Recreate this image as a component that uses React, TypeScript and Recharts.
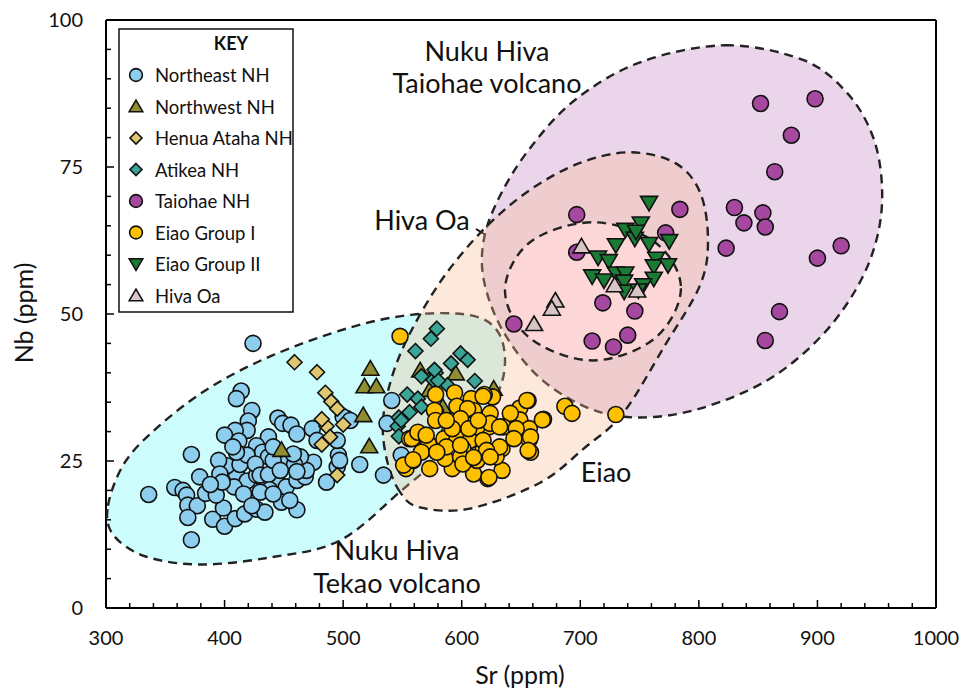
import React from 'react';
import { ScatterChart, Scatter, XAxis, YAxis, ReferenceLine, Customized } from 'recharts';

const FONT = 'Lato, "Open Sans", sans-serif';

// axis ticks
const xMajorTicks = [300, 400, 500, 600, 700, 800, 900, 1000];
const yMajorTicks = [0, 25, 50, 75, 100];
const xTicks: number[] = [];
for (let v = 300; v <= 1000; v += 20) xTicks.push(v);
const yTicks: number[] = [];
for (let v = 0; v <= 100; v += 5) yTicks.push(v);

// samples, [Sr, Nb] in ppm
const northeastNH = [
  [424, 45.0], [414, 36.9], [410, 35.6], [423, 33.6], [420, 31.8], [419, 30.2], [409, 30.2], [400, 29.4], [412, 28.4],
  [445, 32.3], [449, 31.4], [456, 31.1], [461, 29.6], [474, 30.5], [437, 29.1], [427, 27.6], [432, 26.5], [437, 25.7],
  [372, 26.1], [379, 22.3], [358, 20.5], [336, 19.3], [365, 20.0], [368, 19.2], [369, 17.5], [377, 17.4], [369, 15.4], [372, 11.6],
  [390, 15.1], [400, 13.9], [409, 15.2], [417, 16.0], [427, 16.8], [434, 16.3], [448, 18.0], [461, 16.7],
  [384, 19.5], [399, 17.0], [393, 19.2], [402, 21.7], [410, 22.8], [419, 21.6], [427, 22.6], [436, 21.1], [444, 21.4],
  [452, 20.6], [461, 21.7], [468, 22.3], [475, 24.8], [469, 23.4], [451, 24.5], [464, 25.7], [459, 24.4], [461, 23.2],
  [402, 24.2], [395, 25.1], [413, 24.4], [419, 26.0], [410, 26.5], [396, 22.8], [408, 20.6], [398, 21.4], [388, 21.0],
  [426, 24.5], [430, 22.6], [437, 22.7], [438, 20.1], [441, 25.1], [407, 27.4],
  [486, 21.4], [495, 24.0], [496, 26.0], [495, 28.5], [478, 28.5], [503, 32.2], [458, 26.2], [441, 27.4], [447, 23.4],
  [430, 19.7], [416, 19.4], [441, 19.4], [455, 18.3], [423, 17.4],
  [541, 35.3], [537, 31.4], [549, 26.0], [534, 22.6], [514, 24.4], [500, 32.5], [497, 25.1], [506, 31.9],
];

const northwestNH = [
  [523, 40.7], [518, 37.7], [528, 37.7], [517, 32.8], [522, 27.5], [565, 40.4],
  [595, 39.9], [627, 37.3], [573, 37.1], [584, 34.2], [448, 26.9],
];

const henuaAtahaNH = [
  [459, 41.8], [478, 40.1], [485, 36.6], [490, 35.1], [495, 33.9], [486, 30.9],
  [500, 31.2], [489, 29.1], [482, 27.8], [495, 22.6], [482, 32.1],
];

const atikeaNH = [
  [579, 47.5], [574, 45.8], [561, 43.7], [599, 43.3], [605, 42.2], [591, 41.6], [578, 40.0],
  [566, 39.4], [576, 38.8], [611, 38.6], [588, 37.9], [554, 36.3], [563, 35.6], [566, 34.2],
  [556, 33.3], [547, 32.4], [546, 30.9], [547, 29.2], [549, 31.9], [580, 38.7], [577, 40.5],
];

const taiohaeNH = [
  [852, 85.8], [898, 86.6], [878, 80.4], [864, 74.2], [830, 68.1], [838, 65.5], [854, 67.2], [856, 64.8],
  [823, 61.2], [920, 61.6], [900, 59.5], [868, 50.4], [856, 45.5], [784, 67.8], [697, 66.9], [772, 63.8],
  [697, 60.5], [719, 51.9], [746, 50.5], [644, 48.3], [740, 46.4], [710, 45.4], [728, 44.4],
];

const eiaoGroupI = [
  [548, 46.2], [578, 36.3], [594, 36.6], [608, 35.6], [626, 35.9], [619, 36.3], [656, 35.3], [687, 34.3],
  [693, 33.1], [669, 32.1], [649, 34.0], [649, 32.0], [641, 33.1], [657, 30.5], [645, 29.1], [657, 28.6],
  [658, 26.5], [634, 27.1], [634, 23.4], [622, 22.0], [610, 22.8], [592, 23.7], [573, 23.7], [553, 23.7],
  [559, 25.1], [556, 28.8], [565, 29.4], [572, 27.9], [578, 33.4], [596, 34.3], [610, 33.6], [624, 33.1],
  [623, 30.8], [613, 30.8], [601, 30.8], [590, 30.2], [585, 28.8], [596, 28.8], [607, 28.5], [618, 26.8],
  [601, 27.1], [586, 25.4], [599, 25.7], [613, 25.1], [587, 27.4], [566, 26.5], [601, 24.5], [629, 25.7],
  [618, 28.5], [635, 30.8], [618, 36.0], [655, 35.3], [668, 32.0], [605, 33.9], [577, 33.6], [578, 31.9],
  [599, 32.2], [624, 31.4], [632, 30.8], [646, 30.5], [658, 29.1], [656, 26.8], [644, 28.8], [632, 27.4],
  [621, 26.8], [606, 30.5], [592, 30.5], [558, 28.8], [563, 29.9], [570, 29.4], [579, 26.5], [551, 24.3],
  [559, 25.2], [610, 25.6], [623, 22.2], [624, 25.7], [599, 27.7], [587, 31.9], [614, 31.9], [730, 32.9],
];

const eiaoGroupII = [
  [758, 68.9], [751, 65.4], [738, 64.3], [746, 62.8], [747, 64.0], [775, 62.4], [758, 61.9], [730, 61.7],
  [715, 59.6], [724, 59.0], [764, 59.4], [762, 58.1], [774, 58.3], [710, 56.4], [730, 56.9], [738, 56.9],
  [720, 55.7], [737, 55.5], [762, 56.0], [753, 54.9], [737, 53.8], [749, 54.0],
];

const hivaOa = [
  [701, 61.5], [729, 54.9], [748, 54.0], [679, 52.3], [676, 50.9], [661, 48.3],
];

// field outlines, [Sr, Nb]
const tekaoOutline = [
  [301.7, 17.4], [316, 24.8], [345.5, 31.1], [387.7, 37.5], [440.8, 43.0], [505.8, 47.7], [558.9, 49.9],
  [607, 49.8], [629.8, 47.2], [636.5, 41.8], [628.1, 35.7], [598.6, 28.5], [552.2, 20.5], [497.4, 11.5],
  [438.3, 8.6], [379.3, 7.4], [332.9, 8.8], [305.9, 12.5],
];
const taiohaeOutline = [
  [822.1, 95.7], [887.8, 93.2], [925, 87.6], [946.9, 80.1], [954.5, 71.5], [950.3, 63.0], [933.4, 54.5],
  [902.2, 46.0], [857.5, 38.7], [800.8, 33.9], [750.4, 32.4], [708.2, 33.9], [666, 39.1], [634.8, 47.1],
  [618.8, 55.6], [618.8, 62.8], [632.3, 70.1], [657.6, 78.2], [695.5, 86.4], [750.4, 92.8],
];
const eiaoOutline = [
  [548, 19.7], [537, 25.1], [533.6, 31.9], [542.1, 39.9], [558.9, 47.7], [585.9, 56.6], [619.6, 64.6],
  [657.6, 71.1], [699.8, 75.7], [741.9, 77.5], [779.9, 75.7], [801, 70.7], [807.7, 62.6], [801, 54.9],
  [771.5, 44.7], [736, 33.1], [704, 27.3], [666, 21.3], [607, 16.9], [564.8, 17.1],
];
const hivaOaOutline = [
  [784.9, 54.4], [763, 45.9], [710.7, 42.1], [657.6, 45.9], [636.5, 54.0], [657.6, 62.2], [710.7, 65.6], [763, 62.2],
];

const toPts = (arr: number[][]) => arr.map(([x, y]) => ({ x, y }));

const series = [
  { name: 'Northeast NH', data: northeastNH, fill: '#8dcdee', shape: 'circle' },
  { name: 'Northwest NH', data: northwestNH, fill: '#8f8d2f', shape: 'up' },
  { name: 'Henua Ataha NH', data: henuaAtahaNH, fill: '#e0c870', shape: 'diamond' },
  { name: 'Atikea NH', data: atikeaNH, fill: '#3aa596', shape: 'diamond' },
  { name: 'Taiohae NH', data: taiohaeNH, fill: '#a6489f', shape: 'circle' },
  { name: 'Eiao Group I', data: eiaoGroupI, fill: '#ffc000', shape: 'circle' },
  { name: 'Eiao Group II', data: eiaoGroupII, fill: '#1b7b34', shape: 'down' },
  { name: 'Hiva Oa', data: hivaOa, fill: '#d9c5c5', shape: 'up' },
];
const drawOrder = ['Northeast NH', 'Henua Ataha NH', 'Northwest NH', 'Atikea NH', 'Eiao Group I', 'Taiohae NH', 'Eiao Group II', 'Hiva Oa'];

function Marker({ cx, cy, shape, fill, s = 1 }: any) {
  const common = { fill, stroke: '#111', strokeWidth: 1.6 };
  if (shape === 'circle') return <circle cx={cx} cy={cy} r={8 * s} {...common} />;
  if (shape === 'up')
    return <polygon points={`${cx},${cy - 8 * s} ${cx + 8.5 * s},${cy + 6.5 * s} ${cx - 8.5 * s},${cy + 6.5 * s}`} {...common} />;
  if (shape === 'down')
    return <polygon points={`${cx - 8.5 * s},${cy - 6.5 * s} ${cx + 8.5 * s},${cy - 6.5 * s} ${cx},${cy + 8 * s}`} {...common} />;
  return <polygon points={`${cx},${cy - 7.5 * s} ${cx + 7.5 * s},${cy} ${cx},${cy + 7.5 * s} ${cx - 7.5 * s},${cy}`} {...common} />;
}

function closedPath(pts: { x: number; y: number }[]) {
  const n = pts.length;
  let d = `M${pts[0].x},${pts[0].y}`;
  for (let i = 0; i < n; i++) {
    const p0 = pts[(i - 1 + n) % n], p1 = pts[i], p2 = pts[(i + 1) % n], p3 = pts[(i + 2) % n];
    const c1x = p1.x + (p2.x - p0.x) / 6, c1y = p1.y + (p2.y - p0.y) / 6;
    const c2x = p2.x - (p3.x - p1.x) / 6, c2y = p2.y - (p3.y - p1.y) / 6;
    d += ` C${c1x},${c1y} ${c2x},${c2y} ${p2.x},${p2.y}`;
  }
  return d + 'Z';
}

const region = (fill: string, opacity = 1) => (props: any) => (
  <path d={closedPath(props.points)} fill={fill} fillOpacity={opacity} stroke="#222" strokeWidth={2.4} strokeDasharray="9 6" />
);

const XTick = ({ x, y, payload }: any) => {
  const major = payload.value % 100 === 0;
  return (
    <g>
      <line x1={x} x2={x} y1={y} y2={y - (major ? 8 : 5)} stroke="#000" strokeWidth={1.5} />
      {major && (
        <text x={x} y={y + 37} textAnchor="middle" fontSize={20} fontFamily={FONT} fill="#111">{payload.value}</text>
      )}
    </g>
  );
};

const YTick = ({ x, y, payload }: any) => {
  const major = payload.value % 25 === 0;
  return (
    <g>
      <line x1={x} x2={x + (major ? 8 : 5)} y1={y} y2={y} stroke="#000" strokeWidth={1.5} />
      {major && (
        <text x={x - 23} y={y + 7} textAnchor="end" fontSize={20} fontFamily={FONT} fill="#111">{payload.value}</text>
      )}
    </g>
  );
};

const Overlay = () => {
  const t = { fontFamily: FONT, fill: '#111' };
  return (
    <g>
      {/* annotations */}
      <text x={487} y={61} textAnchor="middle" fontSize={27} {...t}>Nuku Hiva</text>
      <text x={487} y={93} textAnchor="middle" fontSize={27} {...t}>Taiohae volcano</text>
      <text x={422} y={230} textAnchor="middle" fontSize={27} {...t}>Hiva Oa</text>
      <line x1={476} y1={229} x2={536} y2={266} stroke="#111" strokeWidth={2} />
      <polygon points="547,273 530,271 537,259" fill="#111" />
      <text x={606} y={482} textAnchor="middle" fontSize={27} {...t}>Eiao</text>
      <text x={397} y={560} textAnchor="middle" fontSize={27} {...t}>Nuku Hiva</text>
      <text x={397} y={593} textAnchor="middle" fontSize={27} {...t}>Tekao volcano</text>
      {/* axis titles */}
      <text x={520} y={684} textAnchor="middle" fontSize={25} {...t}>Sr (ppm)</text>
      <text x={33} y={313} textAnchor="middle" fontSize={25} transform="rotate(-90 33 313)" {...t}>Nb (ppm)</text>
      {/* key */}
      <rect x={119} y={29} width={174} height={283} fill="#fff" stroke="#111" strokeWidth={1.5} />
      <text x={231} y={50} textAnchor="middle" fontSize={18} fontWeight="bold" {...t}>KEY</text>
      {series.map((s, i) => {
        const cy = 75 + i * 31.5;
        return (
          <g key={s.name}>
            <Marker cx={136} cy={cy} shape={s.shape} fill={s.fill} s={0.8} />
            <text x={155} y={cy + 7} fontSize={18.5} {...t}>{s.name}</text>
          </g>
        );
      })}
    </g>
  );
};

export default function App() {
  const byName = Object.fromEntries(series.map((s) => [s.name, s]));
  return (
    <div style={{ position: 'absolute', left: 0, top: 0, background: '#fff' }}>
      <ScatterChart width={972} height={692} margin={{ top: 20, right: 36, left: 0, bottom: 0 }}>
        <XAxis
          type="number" dataKey="x" domain={[300, 1000]} ticks={xTicks} interval={0}
          height={84} tickSize={0} tickMargin={0} tickLine={false}
          axisLine={{ stroke: '#000', strokeWidth: 2 }} tick={<XTick />}
        />
        <YAxis
          type="number" dataKey="y" domain={[0, 100]} ticks={yTicks} interval={0}
          width={106} tickSize={0} tickMargin={0} tickLine={false}
          axisLine={{ stroke: '#000', strokeWidth: 2 }} tick={<YTick />}
        />
        <Scatter data={toPts(tekaoOutline)} line={region('#cdfcfc')} shape={() => <g />} isAnimationActive={false} />
        <Scatter data={toPts(taiohaeOutline)} line={region('#ead5ea')} shape={() => <g />} isAnimationActive={false} />
        <Scatter data={toPts(eiaoOutline)} line={region('#f9ba8e', 0.32)} shape={() => <g />} isAnimationActive={false} />
        <Scatter data={toPts(hivaOaOutline)} line={region('#fdd6d8')} shape={() => <g />} isAnimationActive={false} />
        <ReferenceLine y={100} stroke="#000" strokeWidth={2} />
        <ReferenceLine x={1000} stroke="#000" strokeWidth={2} />
        {drawOrder.map((name) => {
          const s = byName[name];
          return (
            <Scatter
              key={name}
              name={name}
              data={toPts(s.data)}
              isAnimationActive={false}
              shape={(p: any) => <Marker cx={p.cx} cy={p.cy} shape={s.shape} fill={s.fill} />}
            />
          );
        })}
        <Customized component={Overlay} />
      </ScatterChart>
    </div>
  );
}
